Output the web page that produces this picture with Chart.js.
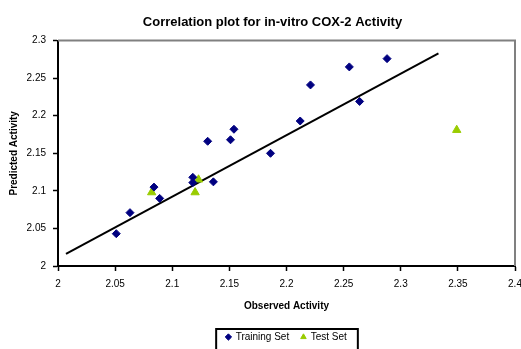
<!DOCTYPE html>
<html>
<head>
<meta charset="utf-8">
<script src="https://cdn.jsdelivr.net/npm/chart.js@4/dist/chart.umd.min.js"></script>
<style>
    html, body { margin: 0; padding: 0; background: #ffffff; }
    #visu { display: block; }
</style>
</head>
<body>
<canvas id="visu" width="521" height="349"></canvas>
<script>
// Values
const trainObserved  = [2.051, 2.063, 2.084, 2.089, 2.118, 2.118, 2.136, 2.131, 2.151, 2.154, 2.186, 2.212, 2.221, 2.255, 2.264, 2.288];
const trainPredicted = [2.043, 2.071, 2.105, 2.090, 2.118, 2.111, 2.112, 2.166, 2.168, 2.182, 2.150, 2.193, 2.241, 2.265, 2.219, 2.276];
const testObserved   = [2.082, 2.120, 2.123, 2.349];
const testPredicted  = [2.098, 2.098, 2.115, 2.181];
const fitObserved    = [2.007, 2.333];
const fitPredicted   = [2.016, 2.283];
const xTicks = [2, 2.05, 2.1, 2.15, 2.2, 2.25, 2.3, 2.35, 2.4];
const yTicks = [2, 2.05, 2.1, 2.15, 2.2, 2.25, 2.3];

const fontFamily = "Arial, 'Liberation Sans', sans-serif";

function toPoints(xs, ys) {
    return xs.map((x, i) => ({ x: x, y: ys[i] }));
}

function tickLabel(value) {
    return String(parseFloat(Number(value).toFixed(2)));
}

// grey frame on top/right, black legend box
const framePlugin = {
    id: 'frame',
    afterLayout(chart) {
        // title sits a bit left of the plot centre in the reference
        chart.titleBlock.left -= 14;
        chart.titleBlock.right -= 14;
    },
    beforeDatasetsDraw(chart) {
        const { ctx, chartArea } = chart;
        ctx.save();
        ctx.strokeStyle = '#808080';
        ctx.lineWidth = 2;
        ctx.beginPath();
        ctx.moveTo(chartArea.left, chartArea.top);
        ctx.lineTo(chartArea.right, chartArea.top);
        ctx.lineTo(chartArea.right, chartArea.bottom);
        ctx.stroke();
        ctx.restore();
    },
    afterDraw(chart) {
        const boxes = chart.legend.legendHitBoxes;
        if (!boxes || !boxes.length) return;
        const { ctx } = chart;
        const first = boxes[0];
        const last = boxes[boxes.length - 1];
        const midY = first.top + first.height / 2;
        const left = first.left - 10;
        const right = last.left + last.width + 11;
        ctx.save();
        ctx.strokeStyle = '#000000';
        ctx.lineWidth = 2;
        ctx.strokeRect(left, midY - 8, right - left, 30);
        ctx.restore();
    }
};

const data = {
    datasets: [
        {
            label: 'Training Set',
            data: toPoints(trainObserved, trainPredicted),
            pointStyle: 'rectRot',
            pointRadius: 4,
            pointHoverRadius: 4,
            backgroundColor: '#000080',
            borderColor: '#000080',
            borderWidth: 1,
            order: 1
        },
        {
            label: 'Test Set',
            data: toPoints(testObserved, testPredicted),
            pointStyle: 'triangle',
            pointRadius: 4.8,
            pointHoverRadius: 4.8,
            backgroundColor: '#99CC00',
            borderColor: '#99CC00',
            borderWidth: 1,
            order: 2
        },
        {
            label: 'fit',
            type: 'line',
            data: toPoints(fitObserved, fitPredicted),
            showLine: true,
            borderColor: '#000000',
            borderWidth: 2,
            pointRadius: 0,
            fill: false,
            order: 3
        }
    ]
};

const config = {
    type: 'scatter',
    data: data,
    options: {
        responsive: false,
        animation: false,
        layout: {
            padding: { left: 0, right: 0, top: 0, bottom: -3 }
        },
        scales: {
            x: {
                type: 'linear',
                min: 2,
                max: 2.4,
                afterBuildTicks: (scale) => { scale.ticks = xTicks.map(v => ({ value: v })); },
                afterFit: (scale) => {
                    scale.height = 54;
                    scale.paddingLeft = 0;
                    scale.paddingRight = 6;
                },
                ticks: {
                    callback: tickLabel,
                    color: '#000000',
                    padding: 7,
                    maxRotation: 0,
                    autoSkip: false,
                    font: { family: fontFamily, size: 10 }
                },
                grid: {
                    drawOnChartArea: false,
                    drawTicks: true,
                    tickLength: 5,
                    tickWidth: 1.5,
                    tickColor: '#000000'
                },
                border: { color: '#000000', width: 2 },
                title: {
                    display: true,
                    text: 'Observed Activity',
                    color: '#000000',
                    font: { family: fontFamily, size: 10, weight: 'bold' },
                    padding: { top: 0, bottom: 8 }
                }
            },
            y: {
                type: 'linear',
                min: 2,
                max: 2.3,
                afterBuildTicks: (scale) => { scale.ticks = yTicks.map(v => ({ value: v })); },
                afterFit: (scale) => { scale.width = 58; },
                ticks: {
                    callback: tickLabel,
                    color: '#000000',
                    padding: 7,
                    autoSkip: false,
                    font: { family: fontFamily, size: 10 }
                },
                grid: {
                    drawOnChartArea: false,
                    drawTicks: true,
                    tickLength: 5,
                    tickWidth: 1.5,
                    tickColor: '#000000'
                },
                border: { color: '#000000', width: 2 },
                title: {
                    display: true,
                    text: 'Predicted Activity',
                    color: '#000000',
                    font: { family: fontFamily, size: 10, weight: 'bold' },
                    padding: { top: 8, bottom: 0 }
                }
            }
        },
        plugins: {
            title: {
                display: true,
                fullSize: false,
                text: 'Correlation plot for in-vitro COX-2 Activity',
                color: '#000000',
                font: { family: fontFamily, size: 13, weight: 'bold' },
                padding: { top: 15, bottom: 10 }
            },
            legend: {
                display: true,
                position: 'bottom',
                fullSize: false,
                labels: {
                    usePointStyle: true,
                    boxWidth: 4.5,
                    boxHeight: 4.5,
                    padding: 12,
                    color: '#000000',
                    font: { family: fontFamily, size: 10 },
                    filter: (item) => item.text !== 'fit'
                }
            },
            tooltip: { enabled: false }
        }
    },
    plugins: [framePlugin]
};

const canvas = document.getElementById('visu');
const ctx = canvas.getContext('2d');
const currentChart = new Chart(ctx, config);
</script>
</body>
</html>
